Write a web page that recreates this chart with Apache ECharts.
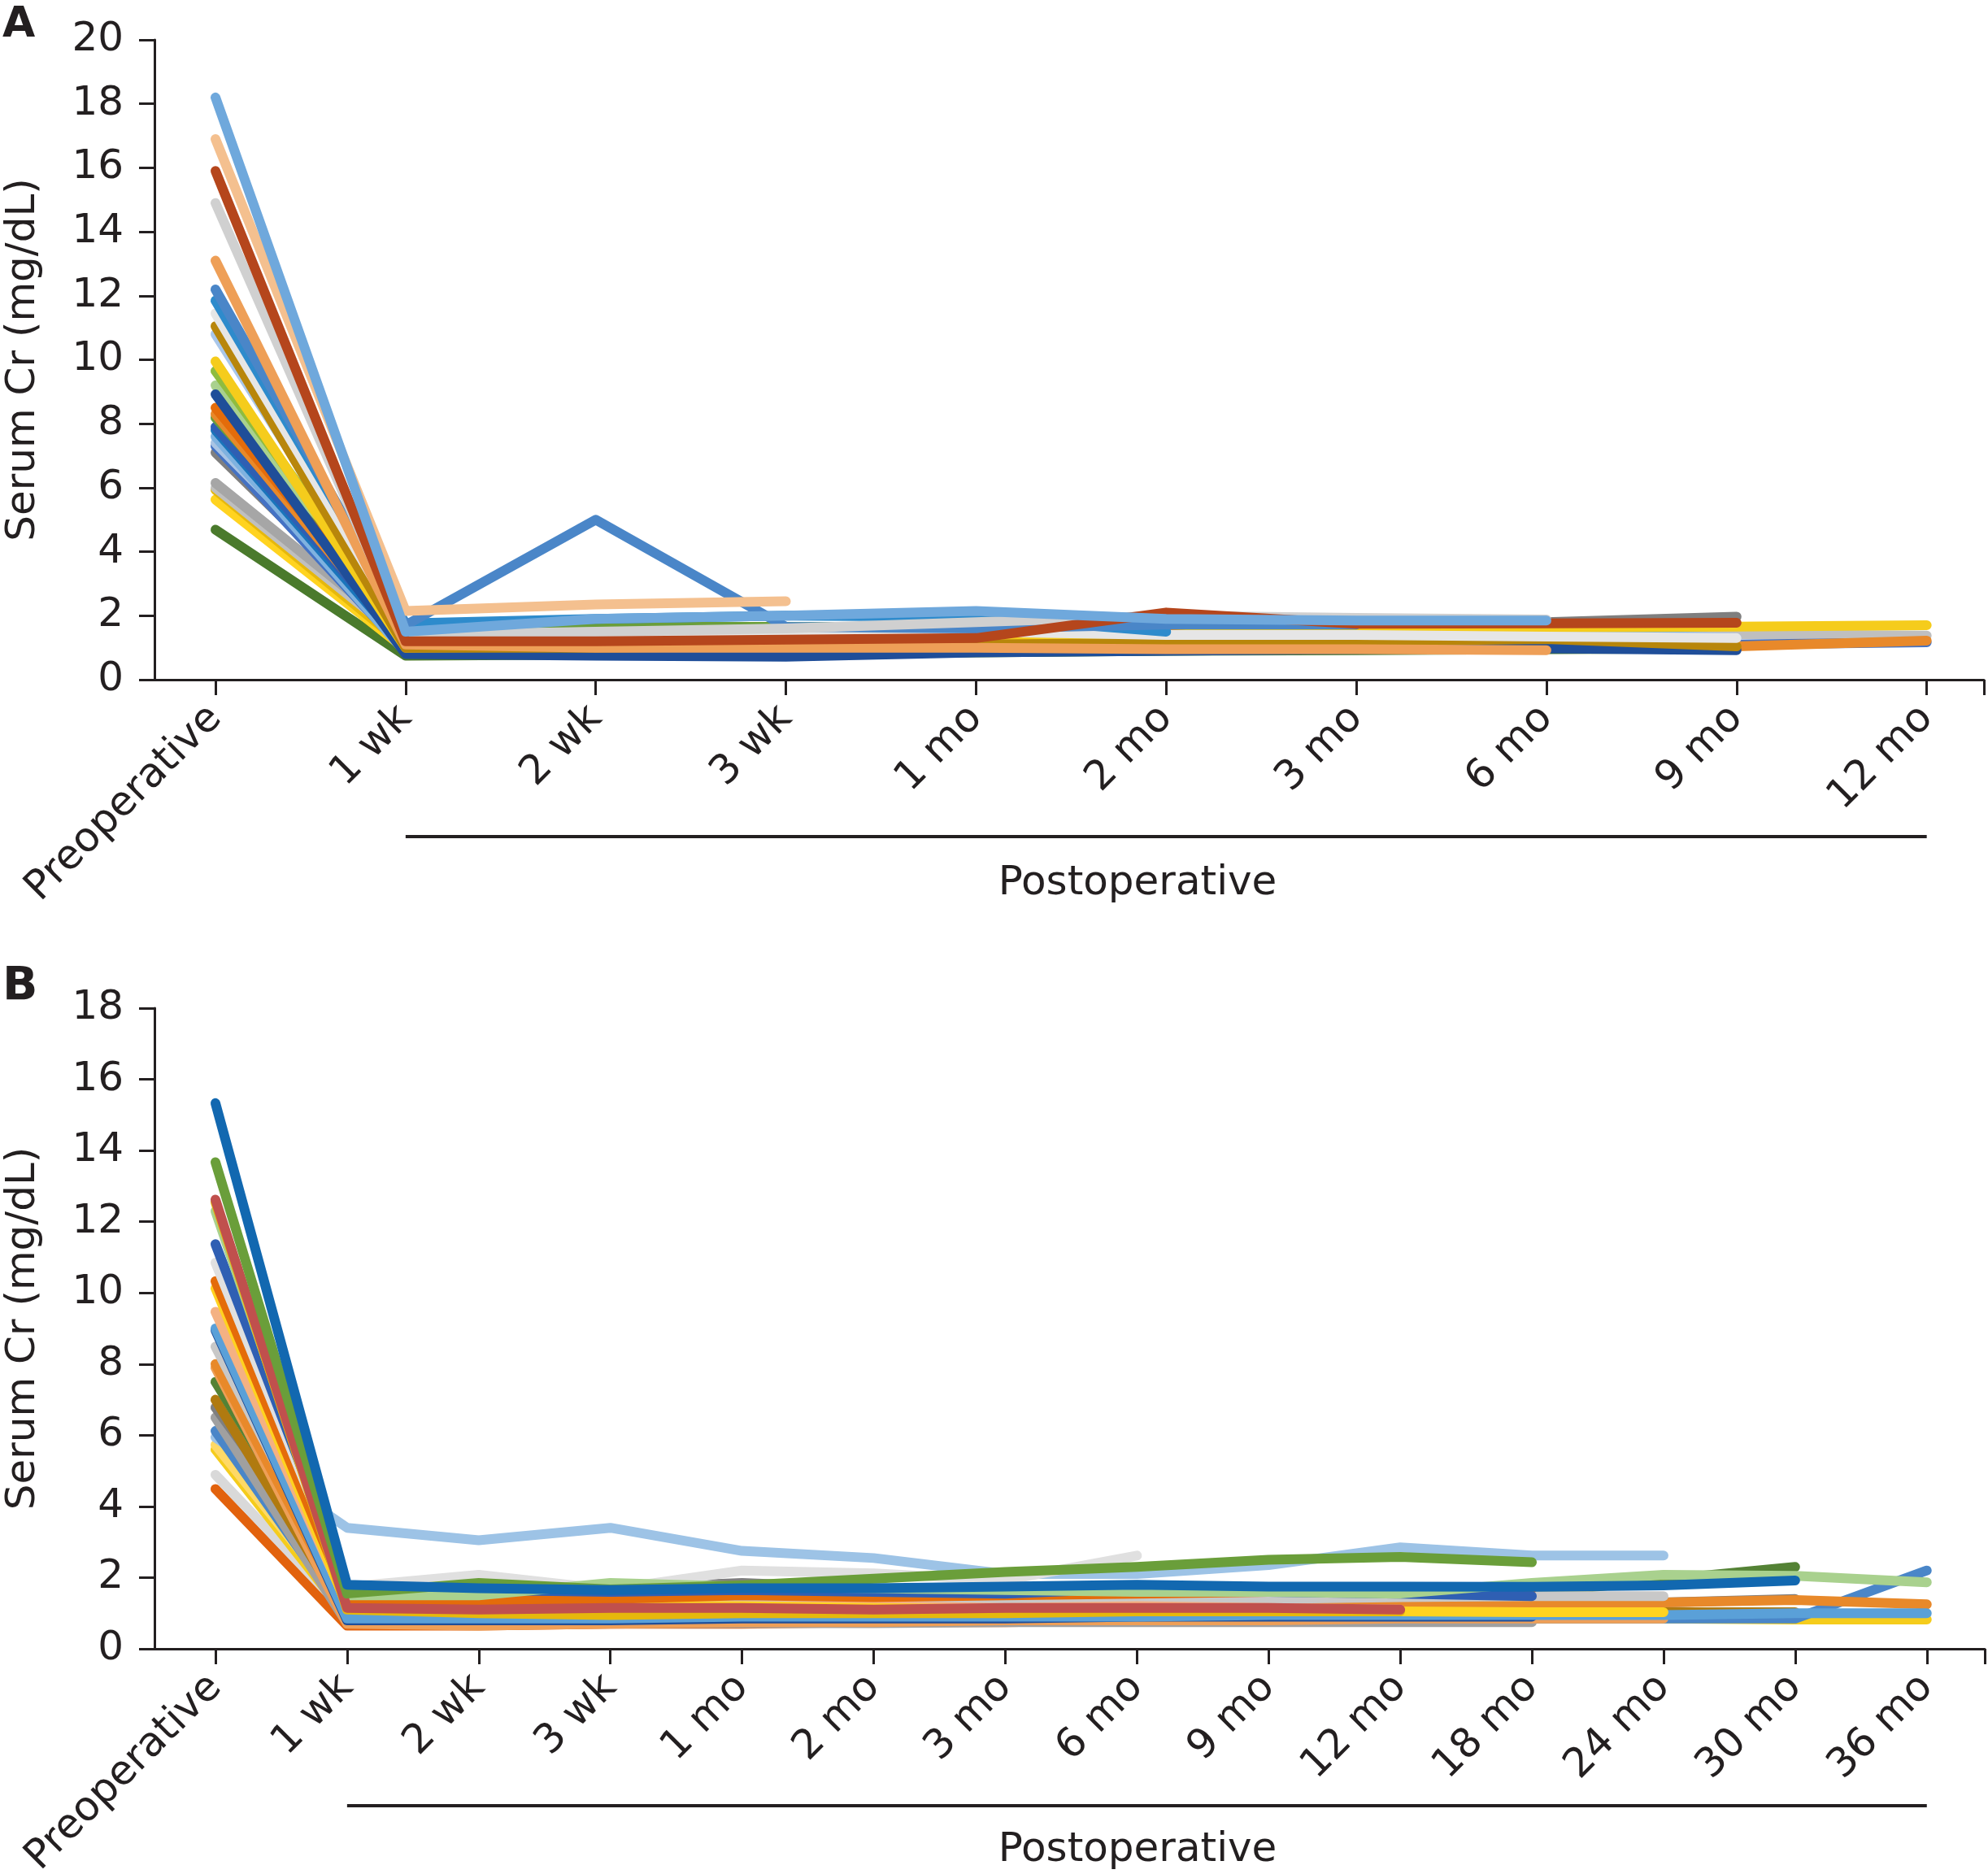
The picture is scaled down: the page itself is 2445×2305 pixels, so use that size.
<!DOCTYPE html>
<html><head><meta charset="utf-8">
<script src="https://cdn.jsdelivr.net/npm/echarts@6/dist/echarts.min.js"></script>
<style>html,body{margin:0;padding:0;background:#fff}#c{width:2445px;height:2305px}</style>
</head><body><div id="c"></div><script>
// ---------- categories (tick labels) ----------
const catsA = ['Preoperative','1 wk','2 wk','3 wk','1 mo','2 mo','3 mo','6 mo','9 mo','12 mo'];
const catsB = ['Preoperative','1 wk','2 wk','3 wk','1 mo','2 mo','3 mo','6 mo','9 mo','12 mo','18 mo','24 mo','30 mo','36 mo'];

// ---------- Panel A: serum Cr per patient (mg/dL), null = no further follow-up ----------
const a01 = [18.2, 1.50, 1.90, 2.00, 2.15, 1.90, 1.85, 1.85, null, null];
const a02 = [16.9, 2.15, 2.35, 2.45, null, null, null, null, null, null];
const a03 = [15.9, 1.20, 1.20, 1.25, 1.30, 2.10, 1.75, 1.76, 1.78, null];
const a04 = [14.9, 1.40, 1.50, 1.60, 1.80, 2.00, 1.93, 1.88, null, null];
const a05 = [13.1, 1.10, 1.00, 1.00, 1.00, 0.95, 0.95, 0.92, null, null];
const a06 = [12.2, 1.70, 5.00, 1.65, 1.60, 1.72, 1.72, null, null, null];
const a07 = [11.85, 1.76, 1.90, 2.00, 1.97, 1.50, null, null, null, null];
const a08 = [11.45, 1.45, 1.45, 1.50, 1.50, 1.40, 1.40, 1.35, 1.30, null];
const a09 = [11.05, 1.00, 1.00, 1.05, 1.10, 1.15, 1.20, 1.27, 1.04, null];
const a10 = [10.8, 1.42, 1.48, 1.55, null, null, null, null, null, null];
const a11 = [9.95, 1.00, 1.05, 1.10, 1.20, 1.40, 1.63, 1.63, 1.66, 1.70];
const a12 = [9.65, 1.50, 1.20, 1.10, 1.10, 1.09, 1.09, null, null, null];
const a13 = [8.92, 0.80, 0.75, 0.72, 0.85, 0.90, 0.95, 0.98, 0.92, null];
const a14 = [8.5, 1.25, 1.28, 1.30, 1.40, 1.55, 1.50, null, null, null];
const a15 = [8.3, 1.10, 1.05, 1.00, 1.00, 1.00, 1.00, 1.00, 1.04, 1.22];
const a16 = [8.19, 1.63, 1.65, 1.65, 1.65, null, null, null, null, null];
const a17 = [7.9, 1.15, 1.20, 1.25, 1.30, 1.72, 1.72, null, null, null];
const a18 = [7.8, 1.00, 1.00, 1.05, 1.10, 1.30, 1.47, 1.45, null, null];
const a19 = [7.6, 0.85, 0.82, 0.80, 0.95, 1.10, 1.20, 1.45, 1.30, null];
const a20 = [7.4, 1.38, 1.45, 1.52, 1.55, null, null, null, null, null];
const a21 = [7.3, 0.90, 0.90, 0.95, 1.00, 1.00, 1.05, 1.05, 1.10, 1.17];
const a22 = [7.1, 1.30, 1.35, 1.40, 1.45, 1.40, 1.50, 1.80, 1.97, null];
const a23 = [6.15, 1.35, 1.40, 1.45, 1.50, 1.50, 1.42, null, null, null];
const a24 = [6.0, 1.20, 1.25, 1.30, 1.30, 1.35, 1.40, 1.42, 1.42, 1.38];
const a25 = [5.93, 1.04, 1.10, 1.15, 1.20, 1.20, null, null, null, null];
const a26 = [5.63, 0.95, 1.00, 1.00, 1.05, 1.10, 1.15, 1.22, null, null];
const a27 = [9.2, 1.10, 1.10, 1.05, 1.05, 1.09, 1.09, 1.10, null, null];
const a28 = [4.69, 0.75, 0.78, 0.80, 0.85, 0.90, 0.92, 0.95, 0.98, null];
const patientsA = [a01,a02,a03,a04,a05,a06,a07,a08,a09,a10,a11,a12,a13,a14,a15,a16,a17,a18,a19,a20,a21,a22,a23,a24,a25,a26,a27,a28];
const colorsA = ['#6fa8dc','#f4c08f','#b5461c','#d0d0d0','#ee9f57','#4a86c8','#2e8bcc','#e6e6e6','#b8860b','#a9c7ea',
                 '#f5cc1c','#8fbc3f','#1f4e99','#e46c0a','#e8892a','#6a9e3a','#2f5fb3','#1a75bb','#7fb2e0','#a9c4e4',
                 '#4472c4','#7f7f7f','#a6a6a6','#bfbfbf','#e6b80c','#ffd320','#a9d18e','#4a7a2c'];

// ---------- Panel B ----------
const b01 = [15.33, 1.80, 1.70, 1.65, 1.70, 1.70, 1.75, 1.80, 1.75, 1.75, 1.74, 1.78, 1.92, null];
const b02 = [13.67, 1.55, 1.85, 1.67, 1.78, 1.97, 2.16, 2.30, 2.50, 2.58, 2.43, null, null, null];
const b03 = [12.62, 1.15, 1.10, 1.15, 1.15, 1.10, 1.15, 1.15, 1.15, 1.10, null, null, null, null];
const b04 = [12.55, 1.10, 1.00, 0.95, 1.00, 1.00, 1.00, 1.05, 1.05, 1.05, null, null, null, null];
const b05 = [12.3, 1.50, 1.50, 1.85, 1.75, 1.70, 1.65, 1.60, 1.60, 1.55, 1.85, 2.08, 2.05, 1.87];
const b06 = [11.37, 1.75, 1.65, 1.60, 1.65, 1.60, 1.55, 1.70, 1.60, 1.55, 1.48, null, null, null];
const b07 = [10.85, 1.74, 2.08, 1.67, 2.20, 2.12, 1.93, 2.62, null, null, null, null, null, null];
const b08 = [10.33, 1.40, 1.35, 1.40, 1.50, 1.45, 1.50, 1.55, 1.60, 1.65, 1.69, null, null, null];
const b09 = [10.13, 1.20, 1.35, 1.20, 1.20, 1.15, 1.10, 1.10, 1.05, 1.05, 1.03, 1.03, null, null];
const b10 = [9.47, 1.25, 1.25, 1.20, 1.20, 1.20, 1.15, 1.20, 1.15, 1.10, null, null, null, null];
const b11 = [9.0, 0.85, 0.85, 0.85, 0.90, 0.90, 0.90, 0.90, 0.95, 0.95, 0.95, 0.95, 1.00, 1.00];
const b12 = [8.95, 0.80, 0.80, 0.80, 0.85, 0.85, 0.85, 0.90, 0.90, 0.90, 0.90, null, null, null];
const b13 = [8.49, 1.30, 1.30, 1.25, 1.30, 1.30, 1.30, 1.35, 1.40, 1.45, 1.48, 1.48, null, null];
const b14 = [8.0, 1.00, 1.00, 1.05, 1.05, 1.10, 1.10, 1.15, 1.20, 1.20, 1.25, 1.30, 1.37, 1.25];
const b15 = [7.9, 0.70, 0.65, 0.70, 0.75, 0.75, 0.80, 0.80, 0.80, 0.85, 0.85, 0.85, null, null];
const b16 = [7.5, 1.50, 1.60, 1.55, 1.60, 1.65, 1.60, 1.55, 1.50, 1.50, 1.55, 1.95, 2.30, null];
const b17 = [7.0, 0.95, 0.90, 0.90, 0.95, 0.95, 0.95, 0.95, 1.00, 1.00, 1.00, 1.03, 1.03, null];
const b18 = [6.78, 1.70, 1.65, 1.70, 1.85, 1.70, 1.60, 1.50, 1.45, 1.35, 1.20, 1.30, 1.40, null];
const b19 = [6.5, 0.72, 0.72, 0.72, 0.72, 0.72, 0.75, 0.75, 0.75, 0.75, 0.75, null, null, null];
const b20 = [6.12, 0.90, 0.90, 0.90, 0.85, 0.85, 0.85, 0.85, 0.85, 0.85, 0.85, 0.85, 0.85, 2.20];
const b21 = [5.94, 3.40, 3.05, 3.40, 2.75, 2.55, 2.10, 2.10, 2.35, 2.85, 2.62, 2.62, null, null];
const b22 = [5.73, 1.10, 1.15, 1.10, 1.10, 1.05, 1.05, 1.05, 1.10, 1.15, null, null, null, null];
const b23 = [5.6, 0.90, 0.95, 0.85, 0.90, 0.90, 0.90, 0.90, 0.85, 0.85, 0.85, 0.85, 0.82, 0.82];
const b24 = [4.89, 1.00, 1.05, 1.00, 1.00, 1.00, 1.00, 1.00, 1.00, 1.05, null, null, null, null];
const b25 = [4.49, 0.65, 0.65, 0.70, 0.70, 0.75, 0.75, 0.80, 0.80, 0.80, null, null, null, null];
const patientsB = [b01,b02,b03,b04,b05,b06,b07,b08,b09,b10,b11,b12,b13,b14,b15,b16,b17,b18,b19,b20,b21,b22,b23,b24,b25];
const colorsB = ['#1268b0','#6a9e3a','#c0504d','#e6b80c','#a9d18e','#2f5fb3','#e0e0e0','#e46c0a','#ffd320','#f4b183',
                 '#5aa0d8','#1f4e99','#c8c8c8','#e8892a','#ee9f57','#548235','#b07a10','#7f7f7f','#a0a0a0','#4a86c8',
                 '#9dc3e6','#ffd966','#f5cc1c','#d9d9d9','#e2620d'];

// ---------- styling ----------
const INK = '#231f20';
const FONT = 'DejaVu Sans';
const FS = 50;

function xAxisCfg(gridIndex, cats, min, max) {
  const idx = cats.map((_, i) => i);
  return {
    type: 'value', gridIndex, min, max,
    axisLine: { show: true, onZero: false, lineStyle: { color: INK, width: 3 } },
    axisTick: { show: true, length: 19, lineStyle: { color: INK, width: 3 }, customValues: idx.concat([max]) },
    axisLabel: { customValues: idx, rotate: 45, margin: 40, fontSize: FS, fontFamily: FONT, color: INK,
                 formatter: v => cats[Math.round(v)] },
    splitLine: { show: false }
  };
}
function yAxisCfg(gridIndex, max) {
  return {
    type: 'value', gridIndex, min: 0, max, interval: 2,
    axisLine: { show: true, onZero: false, lineStyle: { color: INK, width: 3 } },
    axisTick: { show: true, length: 19, lineStyle: { color: INK, width: 3 } },
    axisLabel: { margin: 38, fontSize: FS, fontFamily: FONT, color: INK },
    splitLine: { show: false },
    name: 'Serum Cr (mg/dL)', nameLocation: 'middle', nameGap: 136, nameRotate: 90,
    nameTextStyle: { fontSize: FS, fontFamily: FONT, color: INK }
  };
}
function buildSeries(patients, colors, axisIdx) {
  const out = [];
  for (let k = patients.length - 1; k >= 0; k--) {
    const vals = patients[k];
    out.push({
      type: 'line', xAxisIndex: axisIdx, yAxisIndex: axisIdx,
      data: vals.map((v, i) => [i, v]).filter(d => d[1] != null),
      showSymbol: false, symbol: 'none', silent: true,
      lineStyle: { color: colors[k], width: 12, cap: 'round', join: 'round' },
      z: 2
    });
  }
  return out;
}

const chart = echarts.init(document.getElementById('c'), null, { renderer: 'canvas' });
chart.setOption({
  animation: false,
  backgroundColor: '#fff',
  grid: [
    { left: 190, top: 49, right: 5, bottom: 1469, containLabel: false, outerBoundsMode: 'none' },
    { left: 190, top: 1240, right: 4, bottom: 277, containLabel: false, outerBoundsMode: 'none' }
  ],
  xAxis: [ xAxisCfg(0, catsA, -0.3207, 9.3008), xAxisCfg(1, catsB, -0.463, 13.44) ],
  yAxis: [ yAxisCfg(0, 20), yAxisCfg(1, 18) ],
  series: buildSeries(patientsA, colorsA, 0).concat(buildSeries(patientsB, colorsB, 1))
});

// annotations: panel letters, "Postoperative" brackets
const xa1 = chart.convertToPixel({ xAxisIndex: 0 }, 1);
const xa2 = chart.convertToPixel({ xAxisIndex: 0 }, catsA.length - 1);
const xb1 = chart.convertToPixel({ xAxisIndex: 1 }, 1);
const xb2 = chart.convertToPixel({ xAxisIndex: 1 }, catsB.length - 1);
chart.setOption({
  graphic: [
    { type: 'text', left: 3, top: 5, style: { text: 'A', font: 'bold 52px "DejaVu Sans"', fill: INK } },
    { type: 'text', left: 3, top: 1187, style: { text: 'B', font: 'bold 57px "DejaVu Sans"', fill: INK } },
    { type: 'line', shape: { x1: xa1, y1: 1029, x2: xa2, y2: 1029 }, style: { stroke: INK, lineWidth: 4 } },
    { type: 'line', shape: { x1: xb1, y1: 2221, x2: xb2, y2: 2221 }, style: { stroke: INK, lineWidth: 4 } },
    { type: 'text', x: 1399, y: 1087, style: { text: 'Postoperative', font: FS + 'px "DejaVu Sans"', fill: INK, align: 'center', verticalAlign: 'middle' } },
    { type: 'text', x: 1399, y: 2276, style: { text: 'Postoperative', font: FS + 'px "DejaVu Sans"', fill: INK, align: 'center', verticalAlign: 'middle' } }
  ]
});
</script></body></html>
